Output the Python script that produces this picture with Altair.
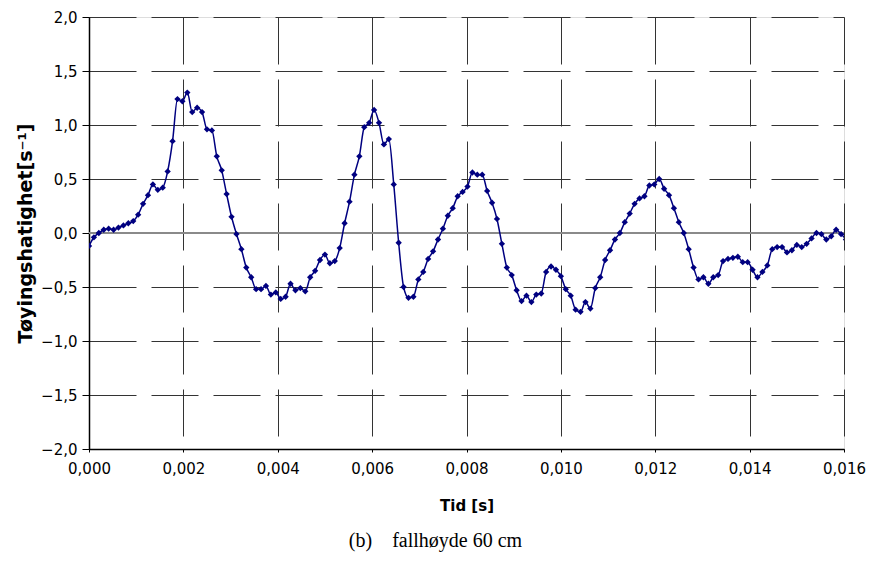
import altair as alt
import pandas as pd

# Strain rate samples, recorded at 9.6 kHz
SAMPLE_RATE = 9600.0
strain_rate = [
    -0.12, -0.04, 0.00, 0.03, 0.04, 0.03, 0.05, 0.07, 0.09, 0.11,
    0.17, 0.27, 0.35, 0.45, 0.40, 0.42, 0.57, 0.85, 1.24, 1.22,
    1.30, 1.12, 1.16, 1.12, 0.96, 0.95, 0.71, 0.58, 0.36, 0.15,
    -0.01, -0.15, -0.32, -0.41, -0.52, -0.52, -0.49, -0.57, -0.55, -0.61,
    -0.59, -0.47, -0.53, -0.51, -0.54, -0.41, -0.35, -0.25, -0.20, -0.28,
    -0.26, -0.14, 0.09, 0.29, 0.54, 0.71, 0.98, 1.02, 1.14, 1.02,
    0.82, 0.87, 0.45, -0.09, -0.50, -0.60, -0.59, -0.43, -0.36, -0.24,
    -0.17, -0.06, 0.04, 0.16, 0.23, 0.34, 0.38, 0.43, 0.56, 0.54,
    0.54, 0.39, 0.28, 0.13, -0.10, -0.32, -0.39, -0.53, -0.63, -0.58,
    -0.64, -0.57, -0.56, -0.36, -0.31, -0.34, -0.40, -0.52, -0.58, -0.71,
    -0.73, -0.64, -0.70, -0.51, -0.41, -0.25, -0.16, -0.06, 0.00, 0.10,
    0.18, 0.27, 0.32, 0.34, 0.44, 0.45, 0.50, 0.41, 0.35, 0.23,
    0.10, 0.00, -0.15, -0.32, -0.43, -0.41, -0.47, -0.41, -0.39, -0.26,
    -0.24, -0.23, -0.22, -0.27, -0.27, -0.34, -0.41, -0.36, -0.30, -0.15,
    -0.13, -0.13, -0.18, -0.16, -0.11, -0.13, -0.10, -0.05, 0.00, -0.01,
    -0.06, -0.03, 0.03, -0.01, -0.06,
]
time_s = [i / SAMPLE_RATE for i in range(len(strain_rate))]

x_ticks = [0.000, 0.002, 0.004, 0.006, 0.008, 0.010, 0.012, 0.014, 0.016]
y_ticks = [-2.0, -1.5, -1.0, -0.5, 0.0, 0.5, 1.0, 1.5, 2.0]

df = pd.DataFrame({"t": time_s, "v": strain_rate})

FONT = "DejaVu Sans"
NAVY = "#000080"

common_axis = dict(
    grid=True,
    gridColor="#333333",
    gridDash=[47, 15],
    gridWidth=1,
    domainColor="#000000",
    domainWidth=1.5,
    tickColor="#000000",
    labelFont=FONT,
    labelFontSize=15,
    labelColor="#000000",
    labelFlush=False,
    titleFont=FONT,
    titleFontWeight="bold",
    titleColor="#000000",
)

x_enc = alt.X(
    "t:Q",
    scale=alt.Scale(domain=[0, 0.016], nice=False, zero=False),
    axis=alt.Axis(
        values=x_ticks,
        labelExpr="replace(format(datum.value, '.3f'), '.', ',')",
        title="Tid [s]",
        titleFontSize=15,
        tickSize=3,
        labelPadding=9,
        titlePadding=22,
        **common_axis,
    ),
)
y_enc = alt.Y(
    "v:Q",
    scale=alt.Scale(domain=[-2, 2], nice=False),
    axis=alt.Axis(
        values=y_ticks,
        labelExpr="replace(format(datum.value, '.1f'), '.', ',')",
        title="Tøyingshatighet[s⁻¹]",
        titleFontSize=19,
        tickSize=7,
        labelPadding=5,
        titlePadding=5,
        **common_axis,
    ),
)

zero_line = alt.Chart(pd.DataFrame({"v": [0.0]})).mark_rule(
    color="#8a8a8a", strokeWidth=2
).encode(y=alt.Y("v:Q", scale=alt.Scale(domain=[-2, 2], nice=False)))

line = alt.Chart(df).mark_line(
    color=NAVY, strokeWidth=1.5, interpolate="monotone", clip=True
).encode(x=x_enc, y=y_enc)

points = alt.Chart(df).mark_point(
    shape="diamond", filled=True, color=NAVY, size=40, opacity=1, clip=True
).encode(x="t:Q", y="v:Q")

chart = (
    alt.layer(zero_line, line, points)
    .properties(
        width=755,
        height=432,
        autosize=alt.AutoSizeParams(type="none"),
        padding={"left": 89, "top": 17, "right": 27, "bottom": 115},
        title=alt.TitleParams(
            "(b)\u00a0\u00a0\u00a0 fallhøyde 60 cm",
            orient="bottom",
            anchor="middle",
            font="Liberation Serif",
            fontSize=20,
            fontWeight="normal",
            color="#000000",
            offset=18,
            dx=-31,
        ),
    )
    .configure_view(stroke="#000000", strokeWidth=1.5)
    .configure(background="#ffffff")
)

chart.save("out.html", embed_options={"renderer": "svg", "actions": False})
